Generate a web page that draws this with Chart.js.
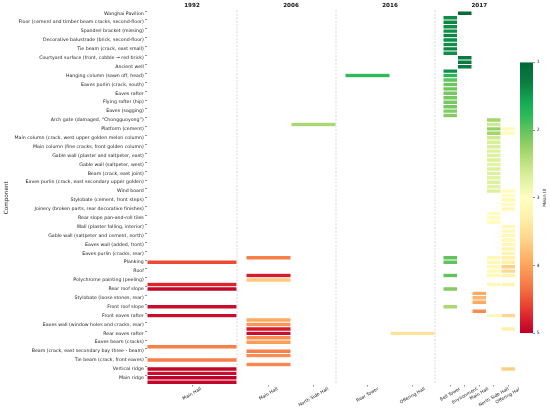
<!DOCTYPE html>
<html><head><meta charset="utf-8">
<script src="https://cdn.jsdelivr.net/npm/chart.js@4.4.1/dist/chart.umd.min.js"></script>
<style>
html,body{margin:0;padding:0;background:#fff;}
#wrap{position:relative;width:550px;height:411px;overflow:hidden;background:#fff;}
canvas{position:absolute;top:0;}
</style></head><body>
<div id="wrap">
<canvas id="c1992" width="240" height="411" style="left:0px"></canvas>
<canvas id="c2006" width="99" height="411" style="left:240px"></canvas>
<canvas id="c2016" width="99" height="411" style="left:339px"></canvas>
<canvas id="c2017" width="82" height="411" style="left:437px"></canvas>
<canvas id="cbar" width="50" height="411" style="left:500px"></canvas>
</div>
<script>
// ---- categories (every other heatmap row carries a visible label) ----
const components = [
'Wanghai Pavilion',
'Floor (cement and timber beam cracks, second-floor)',
'Spandrel bracket (missing)',
'Decorative balustrade (brick, second-floor)',
'Tie beam (crack, east small)',
'Courtyard surface (front, cobble → red brick)',
'Ancient well',
'Hanging column (sawn off, head)',
'Eaves purlin (crack, south)',
'Eaves rafter',
'Flying rafter (hip)',
'Eaves (sagging)',
'Arch gate (damaged, “Chongguoyong”)',
'Platform (cement)',
'Main column (crack, west upper golden melon column)',
'Main column (fine cracks, front golden column)',
'Gable wall (plaster and saltpeter, east)',
'Gable wall (saltpeter, west)',
'Beam (crack, east joint)',
'Eaves purlin (crack, east secondary upper golden)',
'Wind board',
'Stylobate (cement, front steps)',
'Joinery (broken parts, rear decorative finishes)',
'Rear slope pan-and-roll tiles',
'Wall (plaster falling, interior)',
'Gable wall (saltpeter and cement, north)',
'Eaves wall (added, front)',
'Eaves purlin (cracks, rear)',
'Planking',
'Roof',
'Polychrome painting (peeling)',
'Rear roof slope',
'Stylobate (loose stones, rear)',
'Front roof slope',
'Front eaves rafter',
'Eaves wall (window holes and cracks, rear)',
'Rear eaves rafter',
'Eaves beam (cracks)',
'Beam (crack, east secondary bay three - beam)',
'Tie beam (crack, front eaves)',
'Vertical ridge',
'Main ridge'
];
// rows whose tick label is skipped on the axis
const rows = components.flatMap(c => [c, '']);

const years = ['1992', '2006', '2016', '2017'];
const halls1992 = ['Main Hall'];
const halls2006 = ['Main Hall', 'North Side Hall'];
const halls2016 = ['Rear Tower', 'Offering Hall'];
const halls2017 = ['Bell Tower', 'Environment', 'Main Hall', 'North Side Hall', 'Offering Hall'];

// ---- values: [row index, Mean III] ----
const v1992MainHall = [[56,4.55],[61,4.75],[62,4.95],[66,4.9],[68,4.9],[75,4.25],[78,4.25],[80,4.95],[81,4.9],[82,5.0],[83,4.95]];
const v2006MainHall = [[55,4.25],[59,4.8],[60,3.7],[69,3.95],[70,4.1],[71,4.8],[72,4.9],[73,4.15],[74,4.05],[76,4.25],[77,4.15],[79,4.2]];
const v2006NorthSideHall = [[25,2.35]];
const v2016RearTower = [[14,1.8]];
const v2016OfferingHall = [[72,3.45]];
const v2017BellTower = [[1,1.4],[2,1.35],[3,1.4],[4,1.4],[5,1.35],[6,1.4],[7,1.4],[8,1.35],[9,1.4],[13,1.4],[14,1.75],[15,2.0],[16,2.05],[17,2.05],[18,2.1],[19,2.1],[20,2.1],[21,2.1],[22,2.15],[23,2.15],[55,2.0],[56,2.0],[59,2.0],[62,2.15],[66,2.35]];
const v2017Environment = [[0,1.05],[10,1.25],[11,1.25],[12,1.25]];
const v2017MainHall = [[63,3.95],[64,3.85],[65,3.95],[67,4.15]];
const v2017NorthSideHall = [[24,2.3],[25,2.6],[26,2.25],[27,2.3],[28,2.6],[29,2.65],[30,2.65],[31,2.7],[32,2.7],[33,2.7],[34,2.75],[35,2.7],[36,2.7],[37,2.75],[38,2.7],[39,2.75],[40,2.7],[45,3.05],[46,3.05],[47,3.05],[55,3.1],[56,3.1],[57,3.1],[58,3.1],[59,3.1],[61,3.1],[68,3.1]];
const v2017OfferingHall = [[26,3.05],[27,3.05],[40,3.05],[41,3.05],[42,3.1],[43,3.05],[44,3.1],[48,3.1],[49,3.1],[50,3.15],[51,3.1],[52,3.15],[53,3.2],[54,3.2],[55,3.25],[56,3.3],[57,3.65],[58,3.55],[59,3.25],[61,3.2],[68,3.6],[71,3.25],[80,3.65]];

const scaleMin = 1, scaleMax = 5;
const colorbarTitle = 'Mean III';
const axisTitle = 'Component';

// ---- colour scale (styles) ----
const colorStops = [
 [1.0,'#006837'],[1.3,'#0b7e40'],[1.6,'#14ad55'],[1.8,'#2dbb5a'],[2.0,'#62c25c'],
 [2.3,'#a2d56a'],[2.65,'#d8ee98'],[3.0,'#fffec2'],[3.3,'#fff0a8'],[3.6,'#fed68c'],
 [3.8,'#fdbd70'],[4.0,'#fca35c'],[4.3,'#f67846'],[4.55,'#ec4a33'],[4.8,'#d81b2c'],[5.0,'#bb0029']
];
function hexRgb(h){return [parseInt(h.slice(1,3),16),parseInt(h.slice(3,5),16),parseInt(h.slice(5,7),16)];}
function valueColor(v){
  for (let i=1;i<colorStops.length;i++){
    const [v1,c1]=colorStops[i-1],[v2,c2]=colorStops[i];
    if (v<=v2){
      const t=(v-v1)/(v2-v1), a=hexRgb(c1), b=hexRgb(c2);
      return 'rgb('+a.map((x,k)=>Math.round(x+(b[k]-x)*t)).join(',')+')';
    }
  }
  return colorStops[colorStops.length-1][1];
}

const FONT = 'DejaVu Sans';
const decoPlugin = {
  id: 'deco',
  afterDraw(chart, args, opts) {
    const ctx = chart.ctx, xs = chart.scales.x, area = chart.chartArea;
    ctx.save();
    if (opts.sep) {
      ctx.strokeStyle = '#c8c8c8'; ctx.lineWidth = 0.7; ctx.setLineDash([2,1.5]);
      ctx.beginPath(); ctx.moveTo(area.right, area.top - 1); ctx.lineTo(area.right, area.bottom); ctx.stroke();
      ctx.setLineDash([]);
    }
    ctx.font = opts.size + 'px "' + FONT + '"';
    ctx.fillStyle = '#222'; ctx.textAlign = 'center'; ctx.textBaseline = 'middle';
    const a = opts.angle * Math.PI / 180;
    opts.halls.forEach((h, i) => {
      const x = xs.getPixelForValue(i + 0.5);
      const w = ctx.measureText(h).width;
      const bh = w * Math.sin(a) + opts.size * Math.cos(a);
      const y = xs.top + 2.2 + bh / 2;
      ctx.save(); ctx.translate(x, y); ctx.rotate(-a); ctx.fillText(h, 0, 0); ctx.restore();
    });
    ctx.restore();
  }
};

function heatChart(id, year, halls, series, showY, padL, padR, sep) {
  const datasets = halls.map((h, c) => {
    const data = new Array(rows.length).fill(null);
    const colors = new Array(rows.length).fill('rgba(0,0,0,0)');
    series[c].forEach(([r, v]) => { data[r] = [c, c + 1]; colors[r] = valueColor(v); });
    return {label: h, data, backgroundColor: colors, borderColor: '#ffffff', borderWidth: 0.5,
      borderSkipped: false, inflateAmount: 0, grouped: false, categoryPercentage: 1, barPercentage: 1};
  });
  return new Chart(document.getElementById(id), {
    type: 'bar',
    data: {labels: rows, datasets},
    plugins: [decoPlugin],
    options: {
      indexAxis: 'y', responsive: false, animation: false,
      layout: {padding: {left: padL, right: padR, top: 0, bottom: 0}},
      plugins: {legend: {display: false}, tooltip: {enabled: false},
        deco: {halls, size: 4.5, angle: 30, sep}},
      scales: {
        y: {type: 'category', display: showY, offset: true,
          grid: {display: true, drawOnChartArea: false, drawTicks: true, tickLength: 2, lineWidth: 0.6,
            color: ctx => (ctx.index % 2 === 0 ? '#444' : 'rgba(0,0,0,0)')},
          border: {display: false},
          ticks: {autoSkip: false, padding: 1.2, font: {family: FONT, size: 4.7}, color: '#222'},
          title: {display: showY, text: axisTitle, font: {family: FONT, size: 5.7}, color: '#222', padding: {top: 3.3, bottom: 0}},
          afterFit: s => { s.width = showY ? 147 : 0; }
        },
        x: {type: 'linear', position: 'bottom', min: 0, max: halls.length,
          afterBuildTicks: s => { s.ticks = halls.map((h, i) => ({value: i + 0.5})); },
          grid: {display: true, drawOnChartArea: false, drawTicks: true, tickLength: 2, lineWidth: 0.6, color: '#444'},
          border: {display: false},
          ticks: {display: false},
          afterFit: s => { s.height = 26.5; }
        },
        xTop: {type: 'linear', position: 'top', min: 0, max: 1,
          grid: {display: false}, border: {display: false}, ticks: {display: false},
          title: {display: true, text: year, font: {family: FONT, size: 5.6, weight: 'bold'}, color: '#111', padding: {top: 2.6, bottom: 0}},
          afterFit: s => { s.height = 11.1; }
        }
      }
    }
  });
}

heatChart('c1992', years[0], halls1992, [v1992MainHall], true, 0, 3, true);
heatChart('c2006', years[1], halls2006, [v2006MainHall, v2006NorthSideHall], false, 6, 3, true);
heatChart('c2016', years[2], halls2016, [v2016RearTower, v2016OfferingHall], false, 6, 3, true);
heatChart('c2017', years[3], halls2017, [v2017BellTower, v2017Environment, v2017MainHall, v2017NorthSideHall, v2017OfferingHall], false, 6, 3.5, false);

// colour-bar label, rotated to read bottom-to-top
const cbarLabelPlugin = {
  id: 'cbarLabel',
  afterDraw(chart) {
    const ctx = chart.ctx, ys = chart.scales.y;
    ctx.save();
    ctx.font = '4.5px "' + FONT + '"'; ctx.fillStyle = '#222';
    ctx.textAlign = 'center'; ctx.textBaseline = 'middle';
    ctx.translate(ys.right - 5.6, (ys.top + ys.bottom) / 2);
    ctx.rotate(-Math.PI / 2);
    ctx.fillText(colorbarTitle, 0, 0);
    ctx.restore();
  }
};

// ---- colour bar ----
new Chart(document.getElementById('cbar'), {
  type: 'bar',
  data: {labels: [''], datasets: [{data: [[scaleMin, scaleMax]], borderWidth: 0, categoryPercentage: 1, barPercentage: 1, inflateAmount: 0,
    backgroundColor: ctx => {
      const ch = ctx.chart, a = ch.chartArea;
      if (!a) return '#ccc';
      const g = ch.ctx.createLinearGradient(0, a.top, 0, a.bottom);
      colorStops.forEach(([v, c]) => g.addColorStop((v - scaleMin) / (scaleMax - scaleMin), c));
      return g;
    }}]},
  plugins: [cbarLabelPlugin],
  options: {
    responsive: false, animation: false,
    layout: {padding: {left: 20, right: 0, top: 62.3, bottom: 77.7}},
    plugins: {legend: {display: false}, tooltip: {enabled: false}},
    scales: {
      x: {display: false},
      y: {type: 'linear', position: 'right', min: scaleMin, max: scaleMax, reverse: true,
        ticks: {stepSize: 1, padding: 1.7, font: {family: FONT, size: 4.5}, color: '#222'},
        grid: {drawOnChartArea: false, tickLength: 2, lineWidth: 0.6, color: '#444'},
        border: {display: false},
        title: {display: false},
        afterFit: s => { s.width = 17; }
      }
    }
  }
});
</script>
</body></html>
